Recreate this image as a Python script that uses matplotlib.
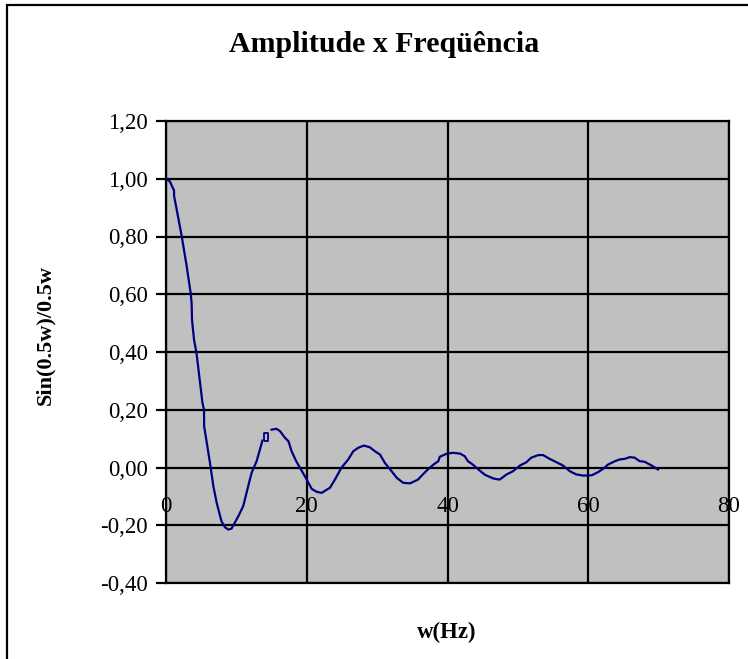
import numpy as np
import matplotlib
matplotlib.use("Agg")
import matplotlib.pyplot as plt
from matplotlib.patches import Rectangle
from matplotlib.transforms import ScaledTranslation

# Sampled response of sin(0.5w)/0.5w (one blank cell leaves a gap near w=14)
w_vals = [0, 0.57, 0.95, 1.14, 1.15, 1.52, 2.22, 2.94, 3.5, 3.64, 3.7, 3.98, 4.33,
          5.18, 5.4, 5.42, 6.25, 6.73, 7.2, 7.88, 8.38, 8.85, 9.3, 10.27, 10.97,
          11.8, 12.17, 12.88, 13.7, 14.35, 15.0, 15.7, 16.2, 16.9, 17.4, 17.85,
          18.5, 19.3, 20.0, 20.7, 21.4, 22.1, 23.3, 24.0, 24.95, 25.9, 26.6, 27.3,
          28.1, 28.97, 29.7, 30.4, 31.1, 32.06, 32.8, 33.7, 34.66, 35.8, 36.5,
          37.2, 38.0, 38.7, 38.9, 39.9, 40.8, 41.8, 42.45, 42.9, 43.6, 44.4, 45.3,
          46.5, 47.4, 48.4, 49.3, 50.3, 51.2, 51.9, 52.9, 53.6, 54.5, 55.5, 56.4,
          57.4, 58.3, 59.3, 60.5, 61.4, 62.1, 62.8, 63.8, 64.5, 65.2, 65.9, 66.6,
          67.3, 68.0, 69.0, 69.9]
amp_vals = [1.00, 0.99, 0.969, 0.96, 0.94, 0.893, 0.803, 0.697, 0.605, 0.57, 0.51,
            0.443, 0.397, 0.224, 0.20, 0.143, 0.016, -0.065, -0.122, -0.186, -0.207,
            -0.215, -0.212, -0.169, -0.134, -0.053, -0.018, 0.022, 0.093, np.nan,
            0.131, 0.134, 0.126, 0.103, 0.091, 0.056, 0.022, -0.012, -0.042, -0.074,
            -0.084, -0.088, -0.07, -0.042, 0.0, 0.028, 0.056, 0.068, 0.076, 0.07,
            0.056, 0.045, 0.016, -0.013, -0.036, -0.053, -0.055, -0.042, -0.024,
            -0.007, 0.01, 0.022, 0.037, 0.048, 0.051, 0.048, 0.039, 0.022, 0.01,
            -0.007, -0.025, -0.038, -0.042, -0.024, -0.013, 0.007, 0.018, 0.034,
            0.043, 0.043, 0.03, 0.018, 0.007, -0.013, -0.024, -0.028, -0.027,
            -0.016, -0.005, 0.01, 0.022, 0.028, 0.03, 0.036, 0.034, 0.022, 0.02,
            0.007, -0.007]

# Isolated marked point
mark_w = [14.2]
mark_amp = [0.107]

x_ticks = [0, 20, 40, 60, 80]
x_tick_labels = ["0", "20", "40", "60", "80"]
y_ticks = [-0.4, -0.2, 0.0, 0.2, 0.4, 0.6, 0.8, 1.0, 1.2]
y_tick_labels = ["-0,40", "-0,20", "0,00", "0,20", "0,40", "0,60", "0,80", "1,00", "1,20"]

title = "Amplitude x Freqüência"
x_label = "w(Hz)"
y_label = "Sin(0.5w)/0.5w"

W, H = 748, 659
fig = plt.figure(figsize=(W / 100, H / 100), dpi=100)
fig.patch.set_facecolor("white")

serif = ["Liberation Serif", "DejaVu Serif"]

# chart frame (left and top edges visible)
fig.add_artist(Rectangle((7 / W, -0.05), 1.2, 1 - 5 / H + 0.05,
                         transform=fig.transFigure, fill=False,
                         edgecolor="black", linewidth=1.6))

ax = fig.add_axes([166 / W, 1 - 583 / H, (729 - 166) / W, (583 - 121) / H])
ax.set_facecolor("#c0c0c0")
ax.set_xlim(0, 80)
ax.set_ylim(-0.4, 1.2)

for yv in y_ticks:
    ax.axhline(yv, color="black", linewidth=1.6, zorder=1)
for xv in x_ticks:
    ax.axvline(xv, color="black", linewidth=1.6, zorder=1)

for s in ax.spines.values():
    s.set_color("black")
    s.set_linewidth(1.6)

ax.plot(w_vals, amp_vals, color="#000080", linewidth=1.6, zorder=3)
rect_marker = [(-0.6, -1), (0.6, -1), (0.6, 1), (-0.6, 1), (-0.6, -1)]
ax.plot(mark_w, mark_amp, linestyle="none", marker=rect_marker, markersize=5.5,
        markerfacecolor="none", markeredgecolor="#000080", markeredgewidth=1.3,
        zorder=3)

ax.set_yticks(y_ticks)
ax.set_yticklabels(y_tick_labels, family=serif, fontsize=16.5)
ax.tick_params(axis="y", length=7, width=1.6, color="black", pad=6)

# category labels sit below the zero line
ax.set_xticks([])
label_shift = ax.transData + ScaledTranslation(0, -29 / 100, fig.dpi_scale_trans)
for xv, lab in zip(x_ticks, x_tick_labels):
    ax.text(xv, 0, lab, family=serif, fontsize=16.5, ha="center", va="top",
            transform=label_shift, zorder=4, clip_on=False)

fig.text(384 / W, 1 - 45 / H, title, family=serif, fontsize=21.5,
         fontweight="bold", ha="center", va="center")
fig.text(447 / W, 1 - 632 / H, x_label, family=serif, fontsize=16.5,
         fontweight="bold", ha="center", va="center")
fig.text(45 / W, 1 - 335 / H, y_label, family=serif, fontsize=16,
         fontweight="bold", ha="center", va="center", rotation=90)

fig.savefig("out.png", dpi=100)
